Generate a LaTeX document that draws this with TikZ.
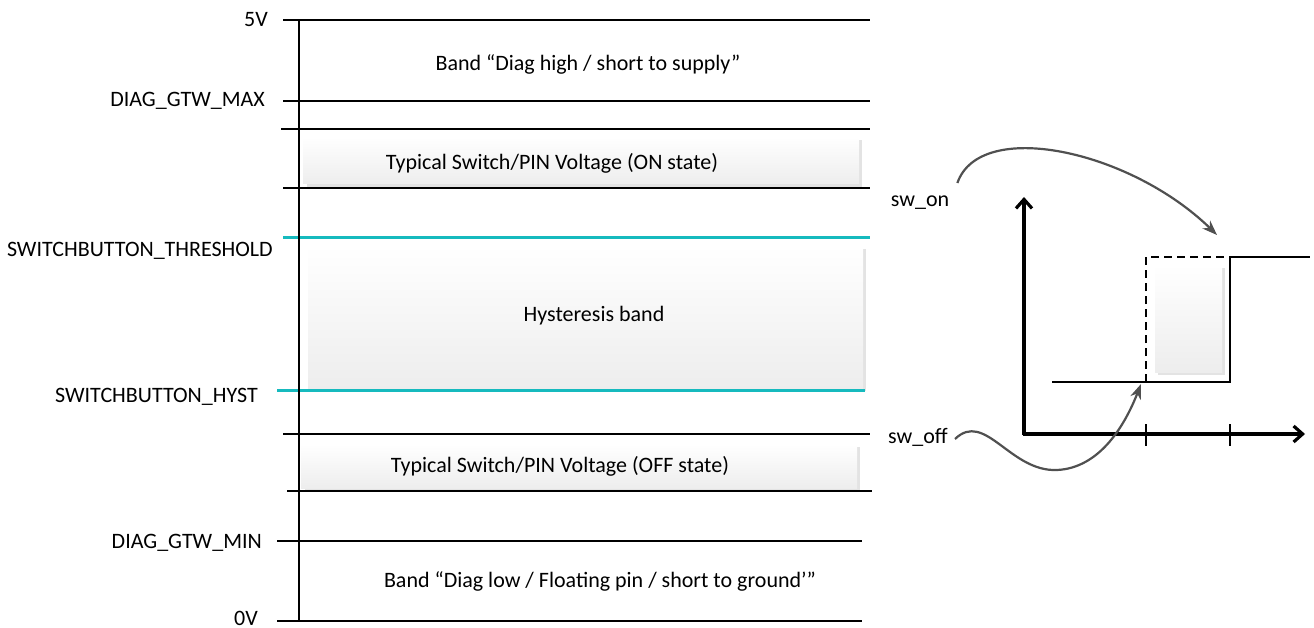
\documentclass[tikz,border=0pt]{standalone}
\usepackage{fontspec}
\setmainfont{Carlito}
\usetikzlibrary{arrows.meta}
\definecolor{threshcyan}{RGB}{22,186,190}
\definecolor{arrowgray}{RGB}{80,80,80}

\begin{document}
\begin{tikzpicture}[x=1pt,y=-1pt,
  level/.style={black, line width=2.4pt},
  thresh/.style={threshcyan, line width=3pt},
  bandbox/.style={top color=white, bottom color=gray!14, draw=none},
  boxshadow/.style={fill=gray!22, draw=none},
  lbl/.style={anchor=base east, inner sep=0pt, font=\fontsize{22}{26}\selectfont},
  txt/.style={inner sep=0pt, font=\fontsize{22}{26}\selectfont},
  axis/.style={line width=3.2pt, -{Straight Barb[length=9pt,width=16pt]}},
  curly/.style={arrowgray, line width=2.2pt, -{Stealth[length=15pt,width=11pt]}}]
  %uncomment to see the pixel grid it was placed on:
  %\draw[dotted,step=50,gray,very thin] (0,0) grid (1314,628);
  \useasboundingbox (0,0) rectangle (1314,628);

  % shaded bands
  \fill[boxshadow] (307,140) rectangle (862,187);
  \shade[bandbox] (303,137) rectangle (859,184);
  \fill[boxshadow] (312,249) rectangle (866,391);
  \shade[bandbox] (308,246) rectangle (863,388);
  \fill[boxshadow] (305,447) rectangle (860,491);
  \shade[bandbox] (301,444) rectangle (857,488);

  % voltage levels
  \draw[level] (283,20) -- (870,20);
  \draw[level] (283,101) -- (870,101);
  \draw[level] (281,129) -- (870,129);
  \draw[level] (283,188) -- (870,188);
  \draw[level] (283,434) -- (870,434);
  \draw[level] (287,491) -- (872,491);
  \draw[level] (277,541) -- (862,541);
  \draw[level] (277,621) -- (862,621);
  % switch thresholds in cyan
  \draw[thresh] (283,238) -- (870,238);
  \draw[thresh] (277,390) -- (865,390);
  % voltage axis
  \draw[level] (299,20) -- (299,621);

  % level names
  \node[lbl] (fivev) at (268,27) {5V};
  \node[lbl] (diagmax) at (265,107) {DIAG\_GTW\_MAX};
  \node[lbl] (swthr) at (273,257) {SWITCHBUTTON\_THRESHOLD};
  \node[lbl] (swhyst) at (258,402) {SWITCHBUTTON\_HYST};
  \node[lbl] (diagmin) at (262,548) {DIAG\_GTW\_MIN};
  \node[lbl] (zerov) at (258,625) {0V};

  % band names
  \node[txt] (bandhigh) at (588,64) {Band “Diag high / short to supply”};
  \node[txt] (typon) at (552,163) {Typical Switch/PIN Voltage (ON state)};
  \node[txt] (hyst) at (594,316) {Hysteresis band};
  \node[txt] (typoff) at (560,466) {Typical Switch/PIN Voltage (OFF state)};
  \node[txt] (bandlow) at (600,581) {Band “Diag low / Floating pin / short to ground’”};

  % hysteresis curve
  \fill[boxshadow] (1158,268) rectangle (1225,375);
  \shade[bandbox] (1155,265) rectangle (1222,372);
  \draw[axis] (1024,435) -- (1024,197);
  \draw[axis] (1023,434) -- (1305,434);
  \draw[level] (1146,424) -- (1146,446);
  \draw[level] (1230,424) -- (1230,446);
  \draw[level] (1052,382) -- (1230,382) -- (1230,257) -- (1310,257);
  \draw[level, dashed, dash pattern=on 8pt off 5pt] (1146,382) -- (1146,257) -- (1230,257);

  % switching points
  \node[txt] (swon) at (920,203) {sw\_on};
  \node[txt] (swoff) at (918,437) {sw\_off};
  \coordinate (onpt) at (1217,235);
  \coordinate (offpt) at (1141,384);
  \draw[curly] (swon.east) ++(8,-20) .. controls (980,118) and (1130,150) .. (onpt);
  \draw[curly] (swoff.east) ++(7,2) .. controls (985,410) and (1010,472) .. (1057,470)
                .. controls (1100,468) and (1125,425) .. (offpt);
\end{tikzpicture}
\end{document}
